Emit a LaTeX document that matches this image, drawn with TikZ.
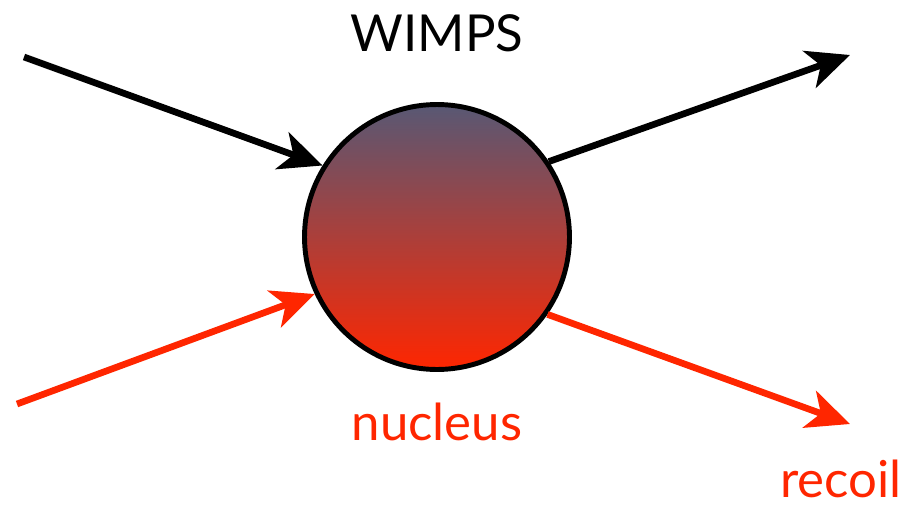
\documentclass[tikz,border=0pt]{standalone}
\usepackage{fontspec}
\setmainfont{Lato}
\usetikzlibrary{arrows.meta}
\definecolor{recoilred}{RGB}{255,38,0}
\definecolor{wimpgrey}{RGB}{88,88,116}
\begin{document}
\begin{tikzpicture}[x=0.02cm, y=-0.02cm,
    ball/.style={circle, draw=black, line width=2.8pt, minimum size=5.3cm, inner sep=0pt,
                 top color=wimpgrey, bottom color=recoilred},
    track/.style={line width=3.8pt, -{Stealth[length=0.86cm, width=0.78cm, inset=0.24cm]}},
    label/.style={font=\fontsize{29}{34}\selectfont, inner sep=0pt}]
    \useasboundingbox (0,0) rectangle (913,511);
    \node[ball] (nucleus) at (437,237) {};
    \node[label] (wimps) at (437,33) {WIMPS};
    \node[label, text=recoilred] (nuc) at (437,422) {nucleus};
    \node[label, text=recoilred] (recoil) at (841,479) {recoil};
    \coordinate (wimpin) at (24,57);
    \coordinate (wimpout) at (850,55);
    \coordinate (redin) at (17,404);
    \coordinate (redout) at (850,424);
    \draw[track] (wimpin) -- (nucleus.148);
    \draw[track] (nucleus.34) -- (wimpout);
    \draw[track, recoilred] (redin) -- (nucleus.205);
    \draw[track, recoilred] (nucleus.-35) -- (redout);
\end{tikzpicture}
\end{document}
